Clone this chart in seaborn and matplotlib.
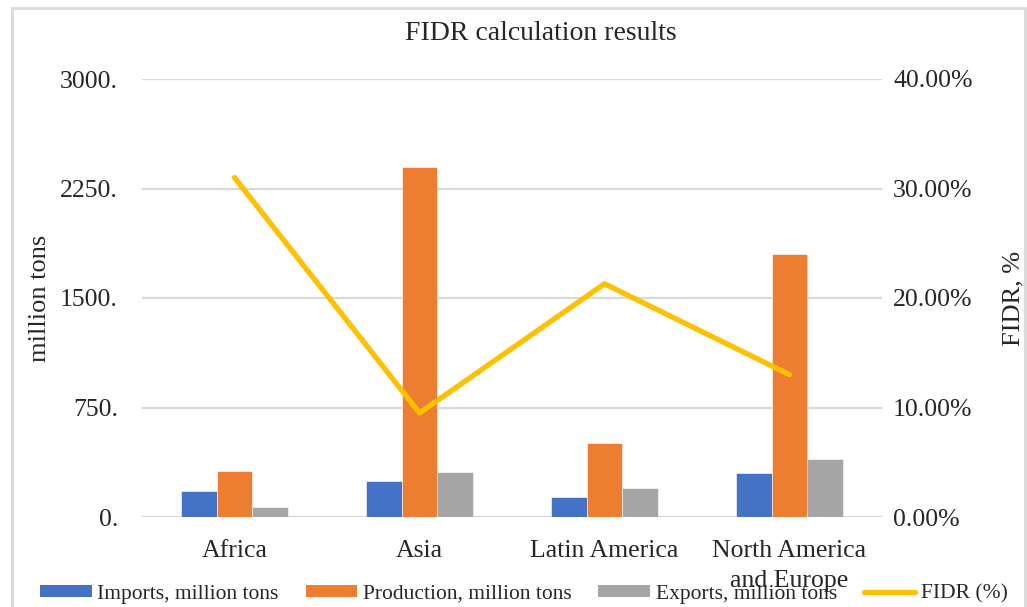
import numpy as np
import pandas as pd
import matplotlib
matplotlib.use("Agg")
import matplotlib.pyplot as plt
from matplotlib.patches import Rectangle, Patch
from matplotlib.lines import Line2D
from matplotlib.ticker import FixedLocator, FuncFormatter
import seaborn as sns

# Regional data
regions = ["Africa", "Asia", "Latin America", "North America\nand Europe"]
imports_mt = [178, 247, 139, 299]
production_mt = [317, 2400, 509, 1801]
exports_mt = [66, 306, 196, 397]
fidr_pct = [31.0, 9.5, 21.3, 13.0]

series_names = ["Imports, million tons", "Production, million tons", "Exports, million tons"]
fidr_name = "FIDR (%)"
left_ticks = [0, 750, 1500, 2250, 3000]
right_ticks = [0, 10, 20, 30, 40]

colors = ["#4472C4", "#ED7D31", "#A5A5A5"]
line_color = "#FFC000"
grid_color = "#D9D9D9"

sns.set_theme(style="white")
plt.rcParams["font.family"] = ["Liberation Serif", "DejaVu Serif"]

df = pd.DataFrame({
    "region": regions * 3,
    "series": np.repeat(series_names, len(regions)),
    "value": imports_mt + production_mt + exports_mt,
})

W, H = 1027, 607
PX = 72 / 100  # points per pixel at 100 dpi
fig = plt.figure(figsize=(W / 100, H / 100), dpi=100)
ax = fig.add_axes([142 / W, 1 - 517 / H, (882 - 142) / W, (517 - 79) / H])

sns.barplot(data=df, x="region", y="value", hue="series", order=regions,
            hue_order=series_names, palette=colors, saturation=1, width=0.58,
            gap=0, edgecolor="white", linewidth=0.4, ax=ax, legend=False)

ax.set_ylim(0, 3000)
ax.set_xlim(-0.5, len(regions) - 0.5)
ax.yaxis.set_major_locator(FixedLocator(left_ticks))
ax.yaxis.set_major_formatter(FuncFormatter(lambda v, p: f"{int(v)}."))
ax.grid(axis="y", color=grid_color, linewidth=1.6)
ax.set_axisbelow(True)
for s in ax.spines.values():
    s.set_visible(False)
ax.tick_params(axis="y", length=0, pad=24 * PX, labelsize=18.5)
ax.tick_params(axis="x", length=0, pad=23 * PX, labelsize=18.5)
ax.set_xlabel("")
ax.set_ylabel("million tons", fontsize=19, labelpad=9 * PX)
for lbl in ax.get_xticklabels():
    lbl.set_linespacing(1.5)

ax2 = ax.twinx()
sns.lineplot(x=np.arange(len(regions)), y=fidr_pct, color=line_color,
             linewidth=3.8, ax=ax2, legend=False)
for ln in ax2.get_lines():
    ln.set_solid_capstyle("round")
    ln.set_solid_joinstyle("round")
ax2.set_ylim(0, 40)
ax2.yaxis.set_major_locator(FixedLocator(right_ticks))
ax2.yaxis.set_major_formatter(FuncFormatter(lambda v, p: f"{v:.2f}%"))
ax2.tick_params(axis="y", length=0, pad=11 * PX, labelsize=18.5)
ax2.set_ylabel("FIDR, %", fontsize=19, labelpad=30 * PX)
ax2.grid(False)
for s in ax2.spines.values():
    s.set_visible(False)
ax.set_xlim(-0.5, len(regions) - 0.5)

fig.text(541 / W, 1 - 34 / H, "FIDR calculation results", ha="center",
         va="center", fontsize=20)

handles = [Patch(facecolor=c, edgecolor="none") for c in colors]
handles.append(Line2D([0], [0], color=line_color, linewidth=3.8,
                      solid_capstyle="round"))
labels = series_names + [fidr_name]
fig.legend(handles, labels, loc="center", bbox_to_anchor=(524 / W, 1 - 594 / H),
           ncol=4, frameon=False, fontsize=15.5, handlelength=2.4,
           handleheight=0.45, handletextpad=0.25, columnspacing=1.25,
           borderpad=0)

# Chart frame
fig.patches.append(Rectangle((12 / W, -0.05), (1025 - 12) / W, 1.05 - 8 / H,
                             transform=fig.transFigure, fill=False,
                             edgecolor=grid_color, linewidth=2, zorder=-1))

fig.savefig("out.png", dpi=100)
